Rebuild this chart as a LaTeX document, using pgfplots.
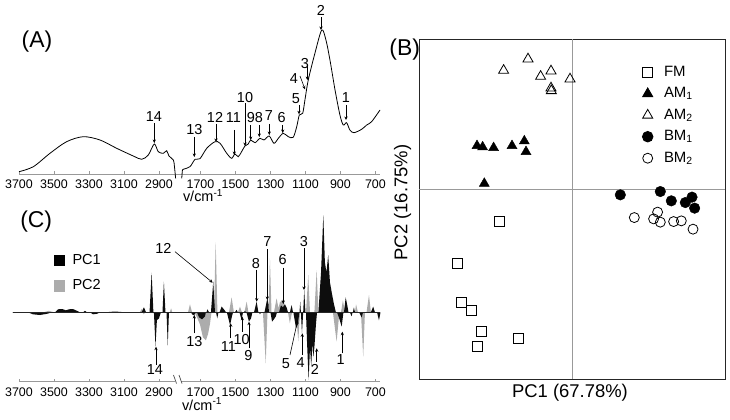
\documentclass[border=0pt]{standalone}
\usepackage{pgfplots}
\pgfplotsset{compat=1.18}
\usepackage{pgfplotstable}
\usepackage{fontspec}
\setmainfont{Liberation Sans}
\usetikzlibrary{arrows.meta}

\newcommand\fs[1]{\fontsize{#1}{#1}\selectfont}

% (A) spectrum, wavenumber / height
\pgfplotstableread{
w y
3700 2.3
3618 7.3
3523 20.7
3428 32.3
3333 37.3
3237 34
3142 25.7
3047 18
2999 14.7
2961 19
2927 30
2904 22.3
2875 20.7
2856 23.3
2843 18
2818 14
2812 8
2805 -4.3
}\specL
\pgfplotstableread{
w y
1807 -4.3
1803 4
1798 4.7
1760 7.3
1731 14.7
1703 15.3
1664 25.7
1617 32.3
1588 30.7
1550 20.7
1522 15.7
1503 20
1484 17.3
1465 22.3
1446 28
1427 30
1413 34
1388 31.3
1360 35.7
1337 34
1307 38
1280 30.7
1255 35.7
1227 40.7
1198 37.3
1170 36.7
1150 47.3
1135 59
1116 60.7
1103 74
1084 94
1046 120.7
1007 144
983 134
960 114
931 84
903 59
884 49
865 51.3
846 44
823 41.3
779 44.7
750 49
722 52.3
674 64
}\specR

% (C) loadings PC1
\pgfplotstableread{
w y
3740 0
3649 0
3620 -2
3580 -2.7
3540 -1.5
3511 0
3494 0
3477 3
3454 3.3
3432 2
3414 3
3392 3.3
3369 1.5
3352 0
3334 0
3323 1.5
3312 0
3294 0
3277 -2
3254 -1.5
3237 0
3209 0
3151 0.8
3094 0
3000 0
2986 5
2974 0
2954 0
2942 39.7
2932 0
2929 0
2920 -34
2912 -8
2900 -6
2889 0
2880 0
2872 30.7
2863 0
2857 0
2850 -33
2843 0
2820 0
}\pcaL
\pgfplotstableread{
w y
1800 0
1754 0
1748 -2
1737 -3
1726 0
1720 0
1708 -5
1691 -7
1674 -4
1669 0
1666 0
1660 3
1651 0
1640 0
1627 30.6
1617 0
1611 0
1604 -6
1597 0
1591 0
1579 5.7
1566 3
1554 0
1549 0
1531 -12.7
1520 -4
1514 0
1503 0
1494 2.5
1486 0
1477 0
1465 -7.7
1457 0
1451 0
1446 1.5
1440 0
1437 0
1423 -9.3
1411 -6
1403 0
1394 0
1379 10.7
1369 0
1366 0
1360 -2
1354 0
1334 0
1318 14
1311 8
1309 0
1300 0
1291 -9.3
1280 -7
1269 -4
1263 0
1251 0
1240 7
1229 5
1217 8
1206 4
1200 0
1189 0
1179 7.3
1171 0
1169 0
1154 -16
1143 -12
1135 0
1134 0
1130 10.7
1126 0
1120 -21
1113 0
1107 22.3
1100 0
1097 0
1091 -30
1082 -67.7
1074 -35
1067 -54
1060 -30
1055 -45
1049 -35
1040 -12
1034 0
1026 0
1011 40
998 97.3
989 50
980 40
970 57.3
960 30
949 19
937 8
926 0
920 0
909 -5
893 -14.3
883 0
880 0
870 15
860 6
854 0
846 0
836 -4
831 0
829 0
823 5
817 0
794 0
779 -5
771 0
726 0
713 5.7
703 0
691 0
680 -8
671 0
}\pcaR

% (C) loadings PC2
\pgfplotstableread{
w y
3740 0
3560 0
3530 1.5
3500 0
3010 0
2998 3.5
2988 -2
2978 0
2838 0
2831 4
2824 0
2820 0
}\pcbL
\pgfplotstableread{
w y
1800 0
1771 0
1760 8
1748 0
1734 0
1720 -5
1703 -12
1686 -25
1669 -28
1657 -22
1646 -12
1637 0
1623 0
1613 70
1603 0
1537 0
1522 15
1509 0
1486 0
1474 5.7
1463 0
1449 0
1436 10.7
1426 0
1343 0
1327 -51
1317 0
1311 0
1303 54
1294 0
1280 0
1265 14
1254 4
1246 10
1227 13
1217 6
1209 0
1200 0
1189 -11
1177 0
1154 0
1141 -29
1131 0
1097 0
1084 37.3
1074 0
1049 0
1036 42.3
1026 0
943 0
922 -29.3
906 0
897 0
886 12
874 0
817 0
811 8
800 0
783 0
770 -44.3
760 0
751 0
737 17.3
726 0
}\pcbR

\pgfplotsset{
  spec/.style={
    scale only axis, anchor=south west, width=361bp,
    xmin=0, xmax=2063, clip=false,
    axis x line=bottom, axis y line=none,
    x axis line style={-, draw=gray!80, line width=0.6bp},
    xtick={0,200,400,600,800,1037,1237,1437,1637,1837,2037},
    xticklabels={3700,3500,3300,3100,2900,1700,1500,1300,1100,900,700},
    xtick align=inside, major tick length=3bp,
    tick style={gray!80, line width=0.5bp},
    tick label style={font=\fs{12.5}, yshift=-2.5bp},
  },
}

\begin{document}
\begin{tikzpicture}[x=1bp,y=1bp]
\path[use as bounding box] (0,0) rectangle (730,419);

% ---------- (A)
\begin{axis}[spec, at={(19bp,245bp)}, height=154bp, ymin=0, ymax=154]
\addplot[black, line width=0.8bp, smooth, tension=0.5] table[x expr={3700-\thisrow{w}}, y=y] {\specL};
\addplot[black, line width=0.8bp, smooth, tension=0.5] table[x expr={2737-\thisrow{w}}, y=y] {\specR};
\end{axis}

% ---------- (C)
\begin{axis}[spec, at={(19bp,37.3bp)}, height=169.4bp, ymin=-69.4, ymax=100,
  x axis line style={draw=none},
  legend style={at={(0.0954,0.7597)}, anchor=north west, draw=none, fill=none,
    inner sep=0pt, font=\fs{14.6}, row sep=11.3bp,
    nodes={inner ysep=0bp, inner xsep=8bp, text height=11bp, text depth=3bp}},
  legend cell align=left]
\addlegendimage{legend image code/.code={\fill[black] (-5.25bp,-5.25bp) rectangle (5.25bp,5.25bp);}}
\addlegendentry{PC1}
\addlegendimage{legend image code/.code={\fill[gray!65] (-5.25bp,-5.25bp) rectangle (5.25bp,5.25bp);}}
\addlegendentry{PC2}
\addplot[fill=gray!65, draw=none, forget plot] table[x expr={3700-\thisrow{w}}, y=y] {\pcbL} \closedcycle;
\addplot[fill=gray!65, draw=none, forget plot] table[x expr={2737-\thisrow{w}}, y=y] {\pcbR} \closedcycle;
\addplot[fill=black!95, draw=none, forget plot] table[x expr={3700-\thisrow{w}}, y=y] {\pcaL} \closedcycle;
\addplot[fill=black!95, draw=none, forget plot] table[x expr={2737-\thisrow{w}}, y=y] {\pcaR} \closedcycle;
\draw[black!85, line width=0.7bp] (axis cs:-37,0) -- (axis cs:2063,0);
\draw[gray!80, line width=0.6bp] (axis cs:0,-69.4) -- (axis cs:891,-69.4);
\draw[gray!80, line width=0.6bp] (axis cs:926,-69.4) -- (axis cs:2063,-69.4);
\end{axis}

% ---------- (B)
\begin{axis}[at={(419bp,40bp)}, anchor=south west, scale only axis,
  width=306bp, height=340bp,
  xmin=-153.3, xmax=152.7, ymin=-189, ymax=150.7,
  xtick=\empty, ytick=\empty,
  axis line style={draw=black!85, line width=0.8bp},
  legend style={at={(0.7294,0.9235)}, anchor=north west, draw=none, fill=none,
    inner sep=0pt, font=\fs{15}, row sep=7.5bp,
    nodes={inner ysep=0bp, inner xsep=11bp, text height=11bp, text depth=3bp}},
  legend cell align=left]
\addlegendimage{legend image code/.code={\draw[black, line width=0.8bp, mark=square, mark size=5bp, only marks] plot coordinates {(0bp,0bp)};}}
\addlegendentry{FM}
\addlegendimage{legend image code/.code={\draw[black, line width=0.8bp, mark=triangle*, mark size=5.8bp, only marks] plot coordinates {(0bp,0bp)};}}
\addlegendentry{AM\textsubscript{1}}
\addlegendimage{legend image code/.code={\draw[black, line width=0.8bp, mark=triangle, mark size=5.8bp, only marks] plot coordinates {(0bp,0bp)};}}
\addlegendentry{AM\textsubscript{2}}
\addlegendimage{legend image code/.code={\draw[black, line width=0.8bp, mark=*, mark size=5.3bp, only marks] plot coordinates {(0bp,0bp)};}}
\addlegendentry{BM\textsubscript{1}}
\addlegendimage{legend image code/.code={\draw[black, line width=0.8bp, mark=o, mark size=5bp, only marks] plot coordinates {(0bp,0bp)};}}
\addlegendentry{BM\textsubscript{2}}
\draw[gray!80, line width=0.7bp] (axis cs:0,-189) -- (axis cs:0,150.7);
\draw[gray!80, line width=0.7bp] (axis cs:-153.3,0) -- (axis cs:152.7,0);
% FM
\addplot[forget plot, only marks, mark=square, mark size=5bp, mark options={draw=black, line width=0.8bp}]
  coordinates {(-73,-32) (-115.3,-74) (-111.3,-112) (-101,-120) (-90.7,-141) (-94.7,-156.3) (-54,-148.3)};
% AM1
\addplot[forget plot, only marks, mark=triangle*, mark size=5.8bp, mark options={draw=black, fill=black}]
  coordinates {(-95.3,44) (-89.7,42.7) (-78.7,42) (-60.3,44) (-48,48.7) (-46.3,38) (-88,6.3)};
% AM2
\addplot[forget plot, only marks, mark=triangle, mark size=5.8bp, mark options={draw=black, line width=0.8bp}]
  coordinates {(-68.7,119.3) (-44.3,130.7) (-31.7,113.3) (-21.3,118.7) (-2.3,110.7) (-21.3,101.7) (-21,99)};
% BM1
\addplot[forget plot, only marks, mark=*, mark size=5.3bp, mark options={draw=black, fill=black}]
  coordinates {(48,-5) (88,-1.7) (99,-11) (113,-12.7) (119.7,-7.3) (122.3,-18.3)};
% BM2
\addplot[forget plot, only marks, mark=o, mark size=5bp, mark options={draw=black, line width=0.8bp}]
  coordinates {(62,-27.7) (85.3,-22.3) (81.3,-29) (88,-32.3) (101.3,-31.7) (109,-31) (120.7,-39.3)};
\end{axis}

% ---------- texts and arrows, in pixel coordinates from the top
\begin{scope}[shift={(0bp,419bp)}, y=-1bp, >={Stealth[length=3.5bp,width=3.2bp]}]
\node[font=\fs{23}] at (37,41.7) {(A)};
\node[font=\fs{23}] at (36.2,221.7) {(C)};
\node[font=\fs{23}] at (404.7,49.2) {(B)};
\node[font=\fs{14.5}, anchor=base] at (203,201.5) {v/cm\textsuperscript{-1}};
\node[font=\fs{14.5}, anchor=base] at (202,410) {v/cm\textsuperscript{-1}};
\node[font=\fs{18.5}] at (570,392.5) {PC1 (67.78\%)};
\node[font=\fs{18.5}, rotate=90] at (402.5,202.5) {PC2 (16.75\%)};
% break marks of (C)
\draw[gray!60!black, line width=0.7bp] (173.5,375) -- (176.5,383.5);
\draw[gray!60!black, line width=0.7bp] (179,375) -- (182,383.5);

\begin{scope}[font=\fs{14.5}, line width=0.6bp]
% (A)
\node at (154,117) {14};   \draw[->] (154.3,123) -- (154.3,143);
\node at (194.3,130) {13}; \draw[->] (194.3,137) -- (194.3,157);
\node at (215,117) {12};   \draw[->] (216,124) -- (216,142);
\node at (233.3,117.3) {11}; \draw[->] (234.3,130) -- (234.3,155);
\node at (245,97.3) {10};  \draw[->] (245,103) -- (245,146);
\node at (250.8,117.3) {9}; \draw[->] (250.7,125) -- (250.7,140);
\node at (259,117.3) {8};  \draw[->] (259.3,125) -- (259.3,137);
\node at (269,116) {7};    \draw[->] (269.3,124) -- (269.3,135);
\node at (281.7,118) {6};  \draw[->] (282.7,125) -- (282.7,133);
\node at (296,98.3) {5};   \draw[->] (299,105) -- (299,114.3);
\node at (294,78.3) {4};   \draw[->] (300,76) -- (305,89.3);
\node at (305,63.3) {3};   \draw[->] (307.3,65) -- (307.3,80);
\node at (321,10) {2};     \draw[->] (321,17.3) -- (321,30);
\node at (346,97.3) {1};   \draw[->] (346,105) -- (346,120);
% (C)
\node at (163.3,248.3) {12}; \draw[->] (175,251.7) -- (212.7,282.7);
\node at (256,263.3) {8};  \draw[->] (256.7,270) -- (256.7,301.7);
\node at (267.3,241.7) {7}; \draw[->] (267.3,249.3) -- (267.3,300);
\node at (282.7,260) {6};  \draw[->] (283.3,267.7) -- (283.3,304);
\node at (304,241.7) {3};  \draw[->] (304,248.3) -- (304,290);
\node at (194.3,341.7) {13}; \draw[->] (194.3,333.3) -- (194.3,315);
\node at (228.3,346.7) {11}; \draw[->] (230.7,338.3) -- (230.7,323.3);
\node at (241.7,340) {10}; \draw[->] (242.3,331.7) -- (242.3,316.7);
\node at (248.3,356) {9};  \draw[->] (249,348.3) -- (249,321.7);
\node at (286,363.3) {5};  \draw[->] (290,355) -- (297.7,320);
\node at (300.7,362.3) {4}; \draw[->] (302.3,355) -- (302.3,333.3);
\node at (315,369.3) {2};  \draw[->] (316.7,361.7) -- (316.7,348.3);
\node at (340.7,360) {1};  \draw[->] (342.3,353.3) -- (342.3,331.7);
\node at (155,370) {14};   \draw[->] (156,365) -- (156,346.7);
\end{scope}
\end{scope}
\end{tikzpicture}
\end{document}
